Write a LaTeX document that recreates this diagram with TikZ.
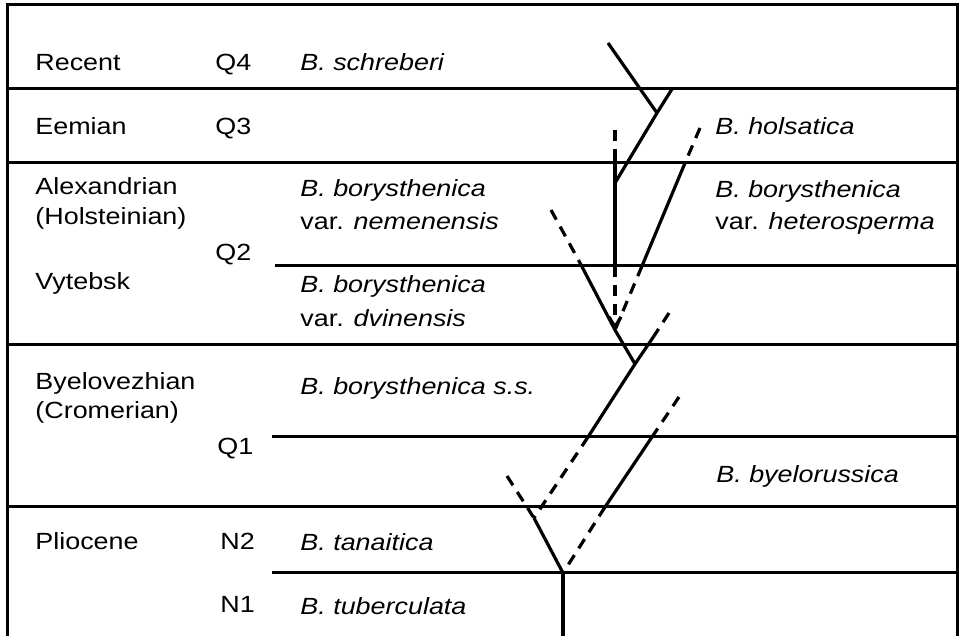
\documentclass[tikz,border=0pt]{standalone}
\usepackage{fontspec}
\setmainfont[FakeStretch=1.15]{Liberation Sans}
\usetikzlibrary{arrows.meta}
\begin{document}
\begin{tikzpicture}[x=0.5pt,y=-0.5pt,
  rule/.style={line width=1.5pt},
  solidline/.style={line width=1.6pt},
  dashline/.style={line width=1.6pt, dash pattern=on 5.5pt off 4pt},
  lab/.style={anchor=base west, inner sep=0pt, font=\fontsize{11.7}{14}\selectfont},
  sp/.style={anchor=base west, inner sep=0pt, font=\fontsize{11.7}{14}\selectfont\itshape}]
\useasboundingbox (0,0) rectangle (960,636);
% frame and period rules
\draw[rule] (7,636) -- (7,5) -- (957,5) -- (957,636);
\draw[rule] (7,89) -- (957,89);
\draw[rule] (7,163) -- (957,163);
\draw[rule] (275,266) -- (957,266);
\draw[rule] (7,345) -- (957,345);
\draw[rule] (272,437) -- (957,437);
\draw[rule] (7,507) -- (957,507);
\draw[rule] (272,573) -- (957,573);
% period labels
\node[lab] (recent) at (35,71) {Recent};
\node[lab] (q4) at (215,71) {Q4};
\node[lab] (eemian) at (35,135) {Eemian};
\node[lab] (q3) at (215,135) {Q3};
\node[lab] (alex) at (35,195) {Alexandrian};
\node[lab] (holst) at (35,225) {(Holsteinian)};
\node[lab] (q2) at (215,261) {Q2};
\node[lab] (vyt) at (35,290) {Vytebsk};
\node[lab] (byel) at (35,390) {Byelovezhian};
\node[lab] (crom) at (35,419) {(Cromerian)};
\node[lab] (q1) at (217,455) {Q1};
\node[lab] (plio) at (35,550) {Pliocene};
\node[lab] (n2) at (220,550) {N2};
\node[lab] (n1) at (220,613) {N1};
% species labels
\node[sp] (schreb) at (300,71) {B. schreberi};
\node[sp] (nem1) at (300,197) {B. borysthenica};
\node[lab] (nem2) at (300,230) {var. \textit{nemenensis}};
\node[sp] (dvi1) at (300,293) {B. borysthenica};
\node[lab] (dvi2) at (300,327) {var. \textit{dvinensis}};
\node[sp] (bss) at (300,395) {B. borysthenica s.s.};
\node[sp] (tana) at (300,551) {B. tanaitica};
\node[sp] (tube) at (300,615) {B. tuberculata};
\node[sp] (hols) at (715,135) {B. holsatica};
\node[sp] (het1) at (715,198) {B. borysthenica};
\node[lab] (het2) at (715,230) {var. \textit{heterosperma}};
\node[sp] (byer) at (716,483) {B. byelorussica};
% tree coordinates
\coordinate (schT) at (608,43);
\coordinate (jB) at (657,113);
\coordinate (holT) at (672,89);
\coordinate (jD) at (615,183);
\coordinate (vT) at (615,130);
\coordinate (vS) at (615,160);
\coordinate (vF) at (615,266);
\coordinate (jG) at (615,330);
\coordinate (hetT) at (700,128);
\coordinate (hetS) at (685,163);
\coordinate (hetI) at (642,266);
\coordinate (lT) at (551,210);
\coordinate (lS) at (579,261);
\coordinate (jJ) at (635,364);
\coordinate (mT) at (669,313);
\coordinate (mS) at (654,336);
\coordinate (mN) at (588,437);
\coordinate (jP) at (534,518);
\coordinate (qT) at (507,476);
\coordinate (jR) at (563,573);
\coordinate (bT) at (679,397);
\coordinate (bS) at (652,437);
\coordinate (bU) at (605,507);
\coordinate (root) at (563,636);
% tree
\draw[solidline] (schT) -- (jB);
\draw[solidline] (holT) -- (jB) -- (jD);
\draw[dashline] (vT) -- (vS);
\draw[solidline] (vS) -- (vF);
\draw[dashline, -{Straight Barb[length=5pt,width=6pt]}] (vF) -- (jG);
\draw[dashline] (hetT) -- (hetS);
\draw[solidline] (hetS) -- (hetI);
\draw[dashline] (hetI) -- (jG);
\draw[dashline] (lT) -- (lS);
\draw[solidline] (lS) -- (jG) -- (jJ);
\draw[dashline] (mT) -- (mS);
\draw[solidline] (mS) -- (jJ) -- (mN);
\draw[dashline] (mN) -- (jP);
\draw[dashline] (qT) -- (jP);
\draw[solidline] (jP) -- (jR);
\draw[dashline] (bT) -- (bS);
\draw[solidline] (bS) -- (bU);
\draw[dashline] (bU) -- (jR);
\draw[solidline] (jR) -- (root);
\end{tikzpicture}
\end{document}
